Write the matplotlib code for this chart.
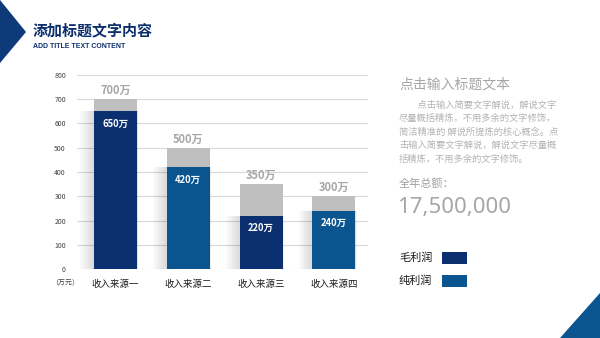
import matplotlib.pyplot as plt
from matplotlib.patches import Polygon, Rectangle

plt.rcParams['font.family'] = ['Noto Sans CJK SC', 'DejaVu Sans']

categories = ['收入来源一', '收入来源二', '收入来源三', '收入来源四']
totals = [700, 500, 350, 300]
profits = [650, 420, 220, 240]
bar_colors = ['#0b2f6f', '#0a5490', '#0b2f6f', '#0a5490']
legend_labels = ['毛利润', '纯利润']
legend_colors = ['#0b2f6f', '#0a5490']
yticks = [0, 100, 200, 300, 400, 500, 600, 700, 800]
year_total = '17,500,000'

W, H = 600, 338
fig = plt.figure(figsize=(W / 100, H / 100), dpi=100)

# background layer in pixel coordinates
bg = fig.add_axes([0, 0, 1, 1])
bg.set_xlim(0, W)
bg.set_ylim(H, 0)
bg.axis('off')
bg.add_patch(Polygon([(0, 0), (26, 32), (0, 63)], closed=True, fc='#0e3a7a', ec='none'))
bg.add_patch(Polygon([(560, 338), (600, 293), (600, 338)], closed=True, fc='#0a5490', ec='none'))
bg.text(33, 30, '添加标题文字内容', fontsize=10.8, weight='bold', color='#0d2f6e', va='center')
bg.text(33, 46, 'ADD TITLE TEXT CONTENT', fontsize=5, weight='bold', color='#0d2f6e',
        va='center', family=['Liberation Sans', 'DejaVu Sans'])

# right panel text
bg.text(399, 85, '点击输入标题文本', fontsize=10, color='#a6a6a6', va='center')
para = ['　　点击输入简要文字解说，解说文字',
        '尽量概括精炼，不用多余的文字修饰，',
        '简洁精准的 解说所提炼的核心概念。点',
        '击输入简要文字解说，解说文字尽量概',
        '括精炼，不用多余的文字修饰。']
for i, line in enumerate(para):
    bg.text(399, 105 + i * 13.5, line, fontsize=6.7, color='#b3b3b3', va='center')
bg.text(399, 183, '全年总额：', fontsize=8, color='#a0a0a0', va='center')
bg.text(397, 207, year_total, fontsize=16, color='#a6a6a6', va='center',
        family=['Noto Sans', 'DejaVu Sans'])

for i, (lab, col) in enumerate(zip(legend_labels, legend_colors)):
    yc = 258 + i * 23
    bg.text(399, yc, lab, fontsize=8, color='#1a1a1a', va='center')
    bg.add_patch(Rectangle((442, yc - 6), 25, 12, fc=col, ec='none'))

# chart
ax = fig.add_axes([77 / W, (H - 269) / H, (368 - 77) / W, 194 / H])
x = list(range(len(categories)))
w = 0.59

# soft shadow around the blue part, mostly to the left
for k in range(1, 8):
    ax.bar([xi - 0.012 * k for xi in x], profits, width=w + 0.03 * k,
           color='black', alpha=0.02, zorder=1, linewidth=0)

ax.bar(x, totals, width=w, color='#bfbfbf', zorder=2, linewidth=0)
ax.bar(x, profits, width=w, color=bar_colors, zorder=3, linewidth=0)

for xi, t, p in zip(x, totals, profits):
    ax.annotate(f'{t}万', (xi, t), xytext=(0, 1.5), textcoords='offset points',
                ha='center', va='bottom', fontsize=8, weight='bold', color='#a6a6a6')
    ax.annotate(f'{p}万', (xi, p), xytext=(0, -9), textcoords='offset points',
                ha='center', va='center', fontsize=6.8, weight='bold', color='white', zorder=4)

ax.set_xlim(-0.53, 3.47)
ax.set_ylim(0, 800)
ax.set_yticks(yticks)
ax.set_yticklabels([str(v) for v in yticks])
ax.set_xticks(x)
ax.set_xticklabels(categories, weight='medium')
ax.yaxis.grid(True, color='#d9d9d9', linewidth=0.8, zorder=0)
ax.set_axisbelow(True)
for s in ax.spines.values():
    s.set_visible(False)
ax.tick_params(axis='y', length=0, labelsize=5, labelcolor='#404040', pad=8)
ax.tick_params(axis='x', length=0, labelsize=6.8, labelcolor='#1a1a1a', pad=8)
ax.patch.set_alpha(0)
bg.text(65, 283, '（万元）', fontsize=5, color='#404040', va='center', ha='center')

fig.savefig('out.png', dpi=100)
